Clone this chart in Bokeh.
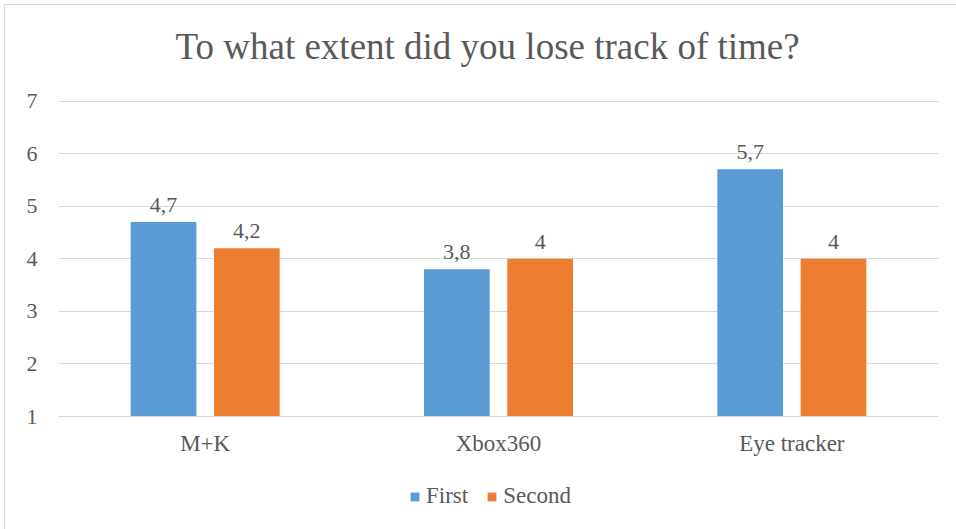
from bokeh.plotting import figure
from bokeh.models import FactorRange, Range1d, Legend, LegendItem, ColumnDataSource
from bokeh.transform import dodge
from bokeh.core.properties import value
from bokeh.embed import file_html
from bokeh.resources import INLINE

# Survey answers per input method
categories = ["M+K", "Xbox360", "Eye tracker"]
first = [4.7, 3.8, 5.7]
second = [4.2, 4.0, 4.0]
y_ticks = [1, 2, 3, 4, 5, 6, 7]
series_names = ["First", "Second"]

BLUE = "#5B9BD5"
ORANGE = "#ED7D31"
GRID = "#D9D9D9"
TEXT = "#595959"
FONT = "Liberation Serif"


def fmt(v):
    return f"{v:g}".replace(".", ",")


source = ColumnDataSource(data=dict(
    cat=categories,
    first=first,
    second=second,
    first_lbl=[fmt(v) for v in first],
    second_lbl=[fmt(v) for v in second],
))

# frame runs from 75 px down to the bottom edge (529 px); the category axis
# sits at y = 1 (416 px) and the legend lives in the space under it
px_per_unit = (416 - 100.5) / 6
y_top = 1 + (416 - 75) / px_per_unit
y_bottom = 1 - (529 - 416) / px_per_unit

p = figure(
    frame_width=880, frame_height=454,
    x_range=FactorRange(*categories, range_padding=0),
    y_range=Range1d(y_bottom, y_top),
    output_backend="svg", toolbar_location=None,
    min_border_left=58, min_border_right=18,
    min_border_top=75, min_border_bottom=0,
)
# thin chart-area border along the top and left edges
p.border_fill_color = None
p.styles = {"box-shadow": "inset 4px 4px 0 0 #FFFFFF, inset 5px 5px 0 0 #D9D9D9"}

p.title.text = "To what extent did you lose track of time?"
p.title.text_font = FONT
p.title.text_font_size = "37px"
p.title.text_font_style = "normal"
p.title.text_color = TEXT
p.title.align = "left"
p.title.offset = 117
p.title.standoff = 17

p.outline_line_color = None
p.xgrid.grid_line_color = None
p.ygrid.grid_line_color = GRID
p.ygrid.grid_line_width = 1

p.yaxis.ticker = y_ticks
p.yaxis.axis_line_color = None
p.yaxis.major_tick_line_color = None
p.yaxis.major_tick_out = 0
p.yaxis.major_tick_in = 0
p.yaxis.minor_tick_line_color = None
p.yaxis.major_label_standoff = 21
p.yaxis.major_label_text_font = FONT
p.yaxis.major_label_text_font_size = "22px"
p.yaxis.major_label_text_color = TEXT

p.xaxis.fixed_location = 1
p.xaxis.axis_line_color = GRID
p.xaxis.major_tick_line_color = None
p.xaxis.major_tick_out = 0
p.xaxis.major_tick_in = 0
p.xaxis.minor_tick_line_color = None
p.xaxis.major_label_standoff = 14
p.xaxis.major_label_text_font = FONT
p.xaxis.major_label_text_font_size = "23px"
p.xaxis.major_label_text_color = TEXT

bar_w = 0.224
off = 0.142

r1 = p.vbar(x=dodge("cat", -off, range=p.x_range), bottom=1, top="first", width=bar_w,
            source=source, fill_color=BLUE, line_color=None)
r2 = p.vbar(x=dodge("cat", off, range=p.x_range), bottom=1, top="second", width=bar_w,
            source=source, fill_color=ORANGE, line_color=None)

for col, lbl, d in (("first", "first_lbl", -off), ("second", "second_lbl", off)):
    p.text(x=dodge("cat", d, range=p.x_range), y=col, text=lbl, source=source,
           text_align="center", text_baseline="alphabetic", y_offset=-17,
           text_font=value(FONT), text_font_size="22px", text_color=TEXT)

legend = Legend(
    items=[LegendItem(label=series_names[0], renderers=[r1]),
           LegendItem(label=series_names[1], renderers=[r2])],
    orientation="horizontal", location=(351, 20),
    glyph_width=11, glyph_height=11, label_standoff=6, spacing=18,
    padding=0, margin=0, border_line_color=None, background_fill_alpha=0,
    label_text_font=FONT, label_text_font_size="23px", label_text_color=TEXT,
)
p.add_layout(legend, "center")

open("out.html", "w").write(file_html(p, INLINE))
